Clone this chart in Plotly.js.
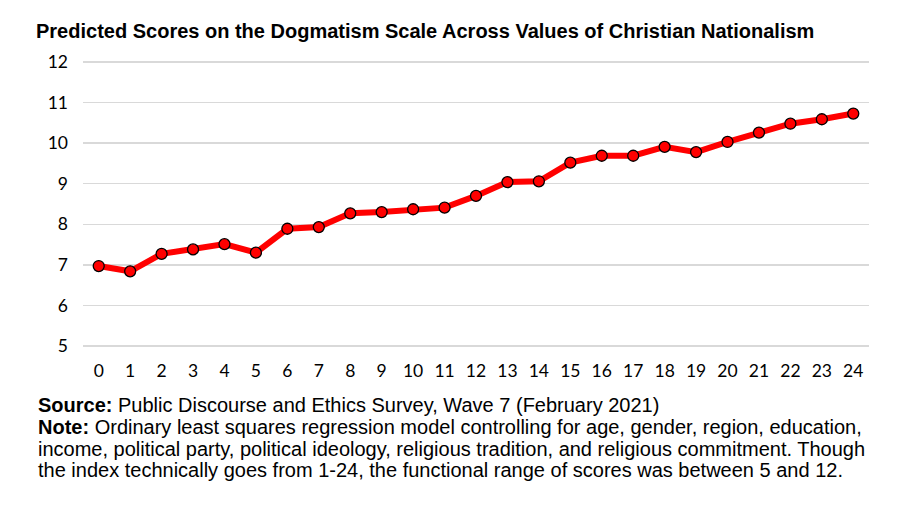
<!DOCTYPE html>
<html>
<head>
<meta charset="utf-8">
<script src="https://cdn.plot.ly/plotly-3.0.1.min.js"></script>
<style>html,body{margin:0;padding:0;background:#fff;}#chart{width:900px;height:506px;}</style>
</head>
<body>
<div id="chart"></div>
<script>
const categories = ["0","1","2","3","4","5","6","7","8","9","10","11","12","13","14","15","16","17","18","19","20","21","22","23","24"];
const predictedScores = [6.97,6.84,7.27,7.38,7.51,7.30,7.89,7.93,8.27,8.30,8.37,8.41,8.70,9.04,9.06,9.52,9.69,9.69,9.91,9.78,10.03,10.26,10.48,10.59,10.73];
const yTicks = [5,6,7,8,9,10,11,12];
const titleText = "Predicted Scores on the Dogmatism Scale Across Values of Christian Nationalism";
const footerLines = [
  "<b>Source:</b> Public Discourse and Ethics Survey, Wave 7 (February 2021)",
  "<b>Note:</b> Ordinary least squares regression model controlling for age, gender, region, education,",
  "income, political party, political ideology, religious tradition, and religious commitment. Though",
  "the index technically goes from 1-24, the functional range of scores was between 5 and 12."
];

const plotTop = 58, plotBottom = 350, plotH = plotBottom - plotTop;
const footerY = [405, 427, 449, 470];

const annotations = footerLines.map((t, i) => ({
  text: t, xref: 'paper', yref: 'paper', x: (36 - 83) / 786, y: (plotBottom - footerY[i]) / plotH,
  xanchor: 'left', yanchor: 'middle', showarrow: false, align: 'left',
  font: {family: 'Liberation Sans, Arial, sans-serif', size: 20, color: '#000'}
}));

const trace = {
  x: categories, y: predictedScores, type: 'scatter', mode: 'lines+markers',
  line: {color: '#ff0000', width: 6},
  marker: {size: 11, color: '#ff0000', line: {color: '#000', width: 1.3}},
  hoverinfo: 'skip'
};

const layout = {
  width: 900, height: 506,
  margin: {l: 83, r: 31, t: plotTop, b: 506 - plotBottom},
  paper_bgcolor: '#fff', plot_bgcolor: '#fff',
  showlegend: false,
  title: {
    text: '<b>' + titleText + '</b>', x: 36 / 900, xanchor: 'left', xref: 'container',
    y: 1 - 31 / 506, yanchor: 'middle', yref: 'container',
    font: {family: 'Liberation Sans, Arial, sans-serif', size: 20, color: '#000'}
  },
  xaxis: {
    type: 'category', range: [-0.5, 24.5], showgrid: false, zeroline: false, showline: false,
    ticks: '', ticklabelstandoff: 8,
    tickfont: {family: 'Lato, Carlito, sans-serif', size: 17.5, color: '#000'}
  },
  yaxis: {
    range: [4.9, 12.1], tickvals: yTicks, ticktext: yTicks.map(String),
    showgrid: true, gridcolor: '#d9d9d9', gridwidth: 1.5, zeroline: false, showline: false,
    ticks: '', ticklabelstandoff: 14,
    tickfont: {family: 'Lato, Carlito, sans-serif', size: 17.5, color: '#000'}
  },
  annotations: annotations
};

Plotly.newPlot('chart', [trace], layout, {staticPlot: true, displayModeBar: false});
</script>
</body>
</html>
